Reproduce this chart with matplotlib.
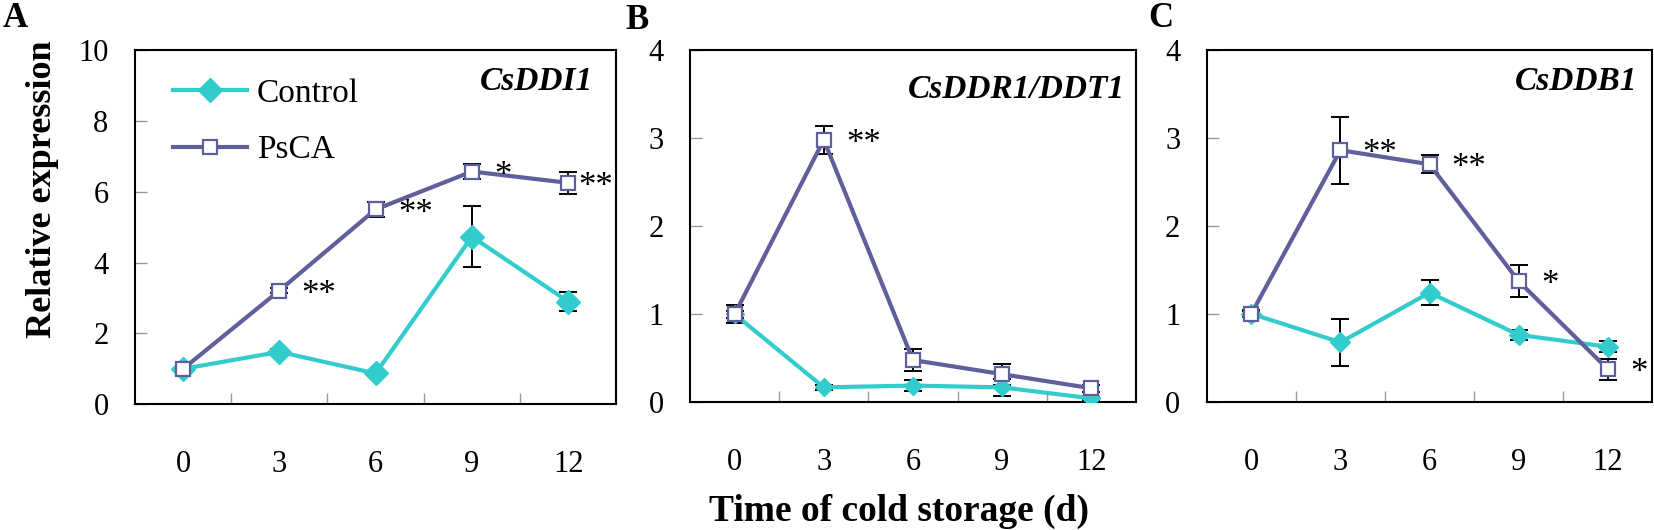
import numpy as np
import matplotlib
matplotlib.use('Agg')
import matplotlib.pyplot as plt

# data (relative expression, mean and error)
days = ['0', '3', '6', '9', '12']

ddi1_ctrl = [1.0, 1.48, 0.87, 4.73, 2.90]
ddi1_ctrl_err = [0.05, 0.08, 0.06, 0.86, 0.28]
ddi1_psca = [1.0, 3.21, 5.50, 6.57, 6.25]
ddi1_psca_err = [0.05, 0.08, 0.22, 0.20, 0.32]
ddi1_stars = [(1, '**'), (2, '**'), (3, '*'), (4, '**')]

ddr1_ctrl = [1.0, 0.17, 0.19, 0.17, 0.045]
ddr1_ctrl_err = [0.04, 0.03, 0.065, 0.10, 0.02]
ddr1_psca = [1.0, 2.98, 0.48, 0.32, 0.16]
ddr1_psca_err = [0.10, 0.16, 0.12, 0.12, 0.04]
ddr1_stars = [(1, '**')]

ddb1_ctrl = [1.0, 0.675, 1.24, 0.76, 0.625]
ddb1_ctrl_err = [0.03, 0.27, 0.145, 0.055, 0.06]
ddb1_psca = [1.0, 2.86, 2.70, 1.37, 0.37]
ddb1_psca_err = [0.04, 0.38, 0.10, 0.18, 0.12]
ddb1_stars = [(1, '**'), (2, '**'), (3, '*'), (4, '*')]

CTRL_COL = '#33CCCC'
PSCA_COL = '#5F5F9B'
FONT = 'Liberation Serif'
TICKFONT = 22
STARFONT = 25

plt.rcParams['font.family'] = [FONT, 'DejaVu Serif']


def draw_panel(ax, gene, ctrl, ctrl_err, psca, psca_err, ymax, ystep, stars,
               title_xy, dia_ms, sq_ms, star_dx):
    x = np.arange(len(days))
    ax.errorbar(x, ctrl, yerr=ctrl_err, fmt='none', ecolor='black',
                elinewidth=1.4, capsize=6.5, capthick=1.4, zorder=2)
    ax.errorbar(x, psca, yerr=psca_err, fmt='none', ecolor='black',
                elinewidth=1.4, capsize=6.5, capthick=1.4, zorder=2)
    ax.plot(x, ctrl, color=CTRL_COL, lw=3, marker='D', ms=dia_ms,
            mfc=CTRL_COL, mec=CTRL_COL, label='Control', zorder=3)
    ax.plot(x, psca, color=PSCA_COL, lw=3, marker='s', ms=sq_ms,
            mfc='white', mec=PSCA_COL, mew=1.6, label='PsCA', zorder=4)

    for i, txt in stars:
        dx = star_dx.get(i, 16)
        ax.annotate(txt, xy=(x[i], psca[i]), xytext=(dx, -9.5),
                    textcoords='offset points', ha='left', va='baseline',
                    fontsize=STARFONT, zorder=5)

    ax.text(title_xy[0], title_xy[1], gene, transform=ax.transAxes,
            ha='right', va='baseline', fontsize=24, fontweight='bold',
            fontstyle='italic')

    ax.set_xlim(-0.5, len(days) - 0.5)
    ax.set_ylim(0, ymax)
    ax.set_xticks(x)
    ax.set_xticklabels(days)
    ax.set_xticks(x[:-1] + 0.5, minor=True)
    ax.set_yticks(np.arange(0, ymax + 0.01, ystep))
    ax.tick_params(axis='x', which='major', length=0, pad=33,
                   labelsize=TICKFONT)
    ax.tick_params(axis='x', which='minor', direction='in', length=8,
                   width=1, color='0.6')
    ax.tick_params(axis='y', which='major', direction='in', length=8.5,
                   width=1, color='0.6', pad=19, labelsize=TICKFONT)
    for sp in ax.spines.values():
        sp.set_linewidth(1.5)
        sp.set_color('black')


fig = plt.figure(figsize=(16.54, 5.30), dpi=100)
axA = fig.add_axes([0.0816, 0.2372, 0.2910, 0.6685])
axB = fig.add_axes([0.4172, 0.2409, 0.2695, 0.6647])
axC = fig.add_axes([0.7296, 0.2421, 0.2694, 0.6636])

draw_panel(axA, 'CsDDI1', ddi1_ctrl, ddi1_ctrl_err, ddi1_psca, ddi1_psca_err,
           10, 2, ddi1_stars, (0.952, 0.887), 12, 9.5, {4: 7})
draw_panel(axB, 'CsDDR1/DDT1', ddr1_ctrl, ddr1_ctrl_err, ddr1_psca,
           ddr1_psca_err, 4, 1, ddr1_stars, (0.976, 0.864), 9.5, 10.5, {})
draw_panel(axC, 'CsDDB1', ddb1_ctrl, ddb1_ctrl_err, ddb1_psca, ddb1_psca_err,
           4, 1, ddb1_stars, (0.967, 0.886), 10, 9.5, {})

axA.legend(loc='upper left', bbox_to_anchor=(0.08, 0.92), frameon=False,
           fontsize=24, handlelength=2.2, handletextpad=0.3,
           labelspacing=0.78, borderpad=0, borderaxespad=0)

fig.text(43 / 1654, 1 - 189 / 530, 'Relative expression', rotation=90,
         ha='center', va='center', fontsize=26, fontweight='bold')
fig.text(899 / 1654, 9 / 530, 'Time of cold storage (d)', ha='center',
         va='baseline', fontsize=27, fontweight='bold')

for lab, xp, yp in [('A', 15, 27), ('B', 637, 29), ('C', 1161, 27)]:
    fig.text(xp / 1654, 1 - yp / 530, lab, ha='center', va='baseline',
             fontsize=25, fontweight='bold')

fig.savefig('out.png', dpi=100)
